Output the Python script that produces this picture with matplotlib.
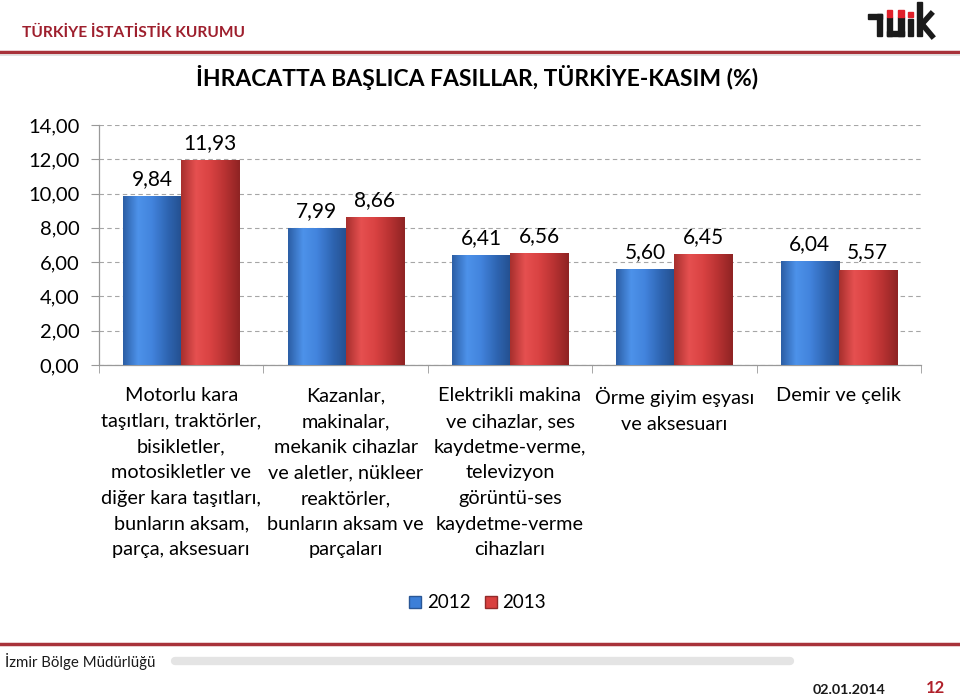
import numpy as np
import matplotlib.pyplot as plt
from matplotlib.patches import Rectangle
from matplotlib.lines import Line2D
from matplotlib.colors import LinearSegmentedColormap

plt.rcParams['font.family'] = ['Lato', 'DejaVu Sans']

# data
categories = [
    "Motorlu kara\ntaşıtları, traktörler,\nbisikletler,\nmotosikletler ve\ndiğer kara taşıtları,\nbunların aksam,\nparça, aksesuarı",
    "Kazanlar,\nmakinalar,\nmekanik cihazlar\nve aletler, nükleer\nreaktörler,\nbunların aksam ve\nparçaları",
    "Elektrikli makina\nve cihazlar, ses\nkaydetme-verme,\ntelevizyon\ngörüntü-ses\nkaydetme-verme\ncihazları",
    "Örme giyim eşyası\nve aksesuarı",
    "Demir ve çelik",
]
years = ["2012", "2013"]
values_2012 = [9.84, 7.99, 6.41, 5.60, 6.04]
values_2013 = [11.93, 8.66, 6.56, 6.45, 5.57]
yticks = [0, 2, 4, 6, 8, 10, 12, 14]

W, H = 960, 697
fig = plt.figure(figsize=(W / 100, H / 100), dpi=100)

def px(x, y):
    # pixel position (from top-left) -> figure fraction
    return x / W, 1 - y / H

# axes placed to match the slide
l, t = px(99, 125)
r, b = px(921, 365)
ax = fig.add_axes([l, b, r - l, t - b])

x = np.arange(len(categories))
w = 0.353
blue_cmap = LinearSegmentedColormap.from_list("b", ["#2c5fa6", "#4d92ea", "#4283dc", "#2f66b4", "#24508f"])
red_cmap = LinearSegmentedColormap.from_list("r", ["#a8302e", "#e65050", "#d94242", "#b83232", "#8f2424"])

bars1 = ax.bar(x - w / 2, values_2012, w, color="#3c7fd8", edgecolor="#2a5796", linewidth=0.6, label=years[0], zorder=3)
bars2 = ax.bar(x + w / 2, values_2013, w, color="#d9403f", edgecolor="#922a2a", linewidth=0.6, label=years[1], zorder=3)

grad = np.linspace(0, 1, 64).reshape(1, -1)
for bars, cmap in ((bars1, blue_cmap), (bars2, red_cmap)):
    for p in bars:
        x0, y0 = p.get_x(), p.get_y()
        im = ax.imshow(grad, cmap=cmap, aspect="auto", zorder=3.5,
                       extent=[x0, x0 + p.get_width(), y0, y0 + p.get_height()])
        im.set_clip_path(p)
    for p, v in zip(bars, bars.datavalues):
        ax.annotate(f"{v:.2f}".replace(".", ","), (p.get_x() + p.get_width() / 2, v),
                    xytext=(0, 5), textcoords="offset points", ha="center", va="bottom",
                    fontsize=15, zorder=5)

ax.set_xlim(-0.5, len(categories) - 0.5)
ax.set_ylim(0, 14)
ax.set_yticks(yticks)
ax.set_yticklabels([f"{v:.2f}".replace(".", ",") for v in yticks], fontsize=14.5)
ax.yaxis.grid(True, color="#a6a6a6", linestyle=(0, (4, 3)), linewidth=0.8, zorder=0)
ax.set_axisbelow(True)
ax.tick_params(axis="y", length=6, color="#999999", pad=8)

ax.set_xticks(x)
ax.set_xticklabels(categories, fontsize=14.3, linespacing=1.62, va="top")
ax.set_xticks(np.arange(-0.5, len(categories), 1), minor=True)
ax.tick_params(axis="x", which="major", length=0, pad=16)
ax.tick_params(axis="x", which="minor", length=6, color="#999999")

for s in ("top", "right"):
    ax.spines[s].set_visible(False)
for s in ("left", "bottom"):
    ax.spines[s].set_color("#999999")
    ax.spines[s].set_linewidth(0.9)

# legend
handles = [Line2D([], [], marker="s", linestyle="", markersize=9, markerfacecolor="#3c7fd8", markeredgecolor="#2a5796"),
           Line2D([], [], marker="s", linestyle="", markersize=9, markerfacecolor="#d9403f", markeredgecolor="#922a2a")]
fig.legend(handles, years, loc="center", bbox_to_anchor=px(475, 603), ncol=2, frameon=False,
           fontsize=13.5, handletextpad=0.0, columnspacing=0.5, handlelength=1.2)

# title
fig.text(*px(477, 78), "İHRACATTA BAŞLICA FASILLAR, TÜRKİYE-KASIM (%)", ha="center", va="center",
         fontsize=16.5, fontweight="bold")

# slide header
fig.text(*px(22, 33), "TÜRKİYE İSTATİSTİK KURUMU", ha="left", va="center", fontsize=11.2,
         fontweight="bold", color="#9e1f2d")
fig.add_artist(Line2D([0, 1], [1 - 52 / H] * 2, color="#a8323a", linewidth=2.5, transform=fig.transFigure))
fig.add_artist(Line2D([0, 1], [1 - 54.5 / H] * 2, color="#dddddd", linewidth=1.2, transform=fig.transFigure))

# logo
def rect(x0, y0, x1, y1, c):
    fig.add_artist(Rectangle(px(x0, y1), (x1 - x0) / W, (y1 - y0) / H, color=c, transform=fig.transFigure))

rect(868, 14, 882, 19, "#1a1a1a")
rect(877, 14, 882, 36, "#1a1a1a")
rect(887, 17, 892, 36, "#1a1a1a")
rect(898, 17, 904, 36, "#1a1a1a")
rect(887, 31, 904, 36, "#1a1a1a")
rect(887, 10, 892, 17, "#e0202a")
rect(898, 10, 904, 17, "#e0202a")
rect(908, 12, 913, 17, "#e0202a")
rect(908, 19, 913, 36, "#1a1a1a")
rect(917, 2, 922, 36, "#1a1a1a")
fig.add_artist(Line2D([px(922, 24)[0], px(931, 14)[0]], [px(922, 24)[1], px(931, 14)[1]],
                      color="#1a1a1a", linewidth=4, transform=fig.transFigure))
fig.add_artist(Line2D([px(922, 24)[0], px(932, 36)[0]], [px(922, 24)[1], px(932, 36)[1]],
                      color="#1a1a1a", linewidth=4, transform=fig.transFigure))

# footer
fig.add_artist(Line2D([0, 1], [1 - 644 / H] * 2, color="#a8323a", linewidth=2.5, transform=fig.transFigure))
fig.text(*px(5, 661), "İzmir Bölge Müdürlüğü", ha="left", va="center", fontsize=10.8, color="#1a1a1a")
fig.add_artist(Line2D([px(175, 0)[0], px(790, 0)[0]], [1 - 661 / H] * 2, color="#e4e4e4", linewidth=6,
                      solid_capstyle="round", transform=fig.transFigure))
fig.text(*px(885, 690), "02.01.2014", ha="right", va="center", fontsize=10.3, fontweight="bold", color="#1a1a1a")
fig.text(*px(945, 688), "12", ha="right", va="center", fontsize=12, fontweight="bold", color="#b0202a")

fig.savefig("out.png", dpi=100)
